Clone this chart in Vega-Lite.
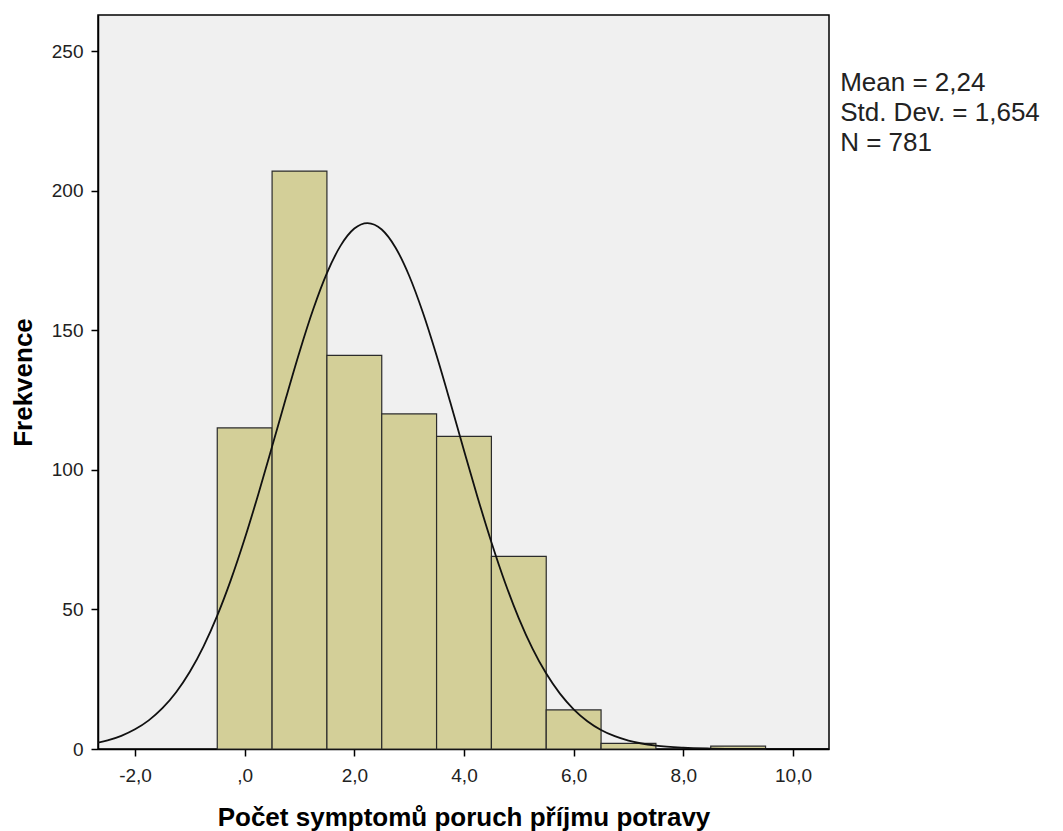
{
  "$schema": "https://vega.github.io/schema/vega-lite/v6.json",
  "autosize": {"type": "none"},
  "padding": {"left": 98, "top": 15, "right": 234, "bottom": 82},
  "width": 731,
  "height": 734,
  "background": "#ffffff",
  "config": {
    "view": {"fill": "#F0F0F0", "stroke": "#000000", "strokeWidth": 1.5},
    "font": "Liberation Sans"
  },
  "datasets": {
    "bars": [
      {"start": -0.5, "end": 0.5, "count": 115},
      {"start": 0.5, "end": 1.5, "count": 207},
      {"start": 1.5, "end": 2.5, "count": 141},
      {"start": 2.5, "end": 3.5, "count": 120},
      {"start": 3.5, "end": 4.5, "count": 112},
      {"start": 4.5, "end": 5.5, "count": 69},
      {"start": 5.5, "end": 6.5, "count": 14},
      {"start": 6.5, "end": 7.5, "count": 2},
      {"start": 8.5, "end": 9.5, "count": 1}
    ],
    "curve": [
      {"x": -2.675, "y": 2.28}, {"x": -2.5, "y": 3.1}, {"x": -2.25, "y": 4.73},
      {"x": -2.0, "y": 7.05}, {"x": -1.75, "y": 10.26}, {"x": -1.5, "y": 14.61},
      {"x": -1.25, "y": 20.33}, {"x": -1.0, "y": 27.65}, {"x": -0.75, "y": 36.77},
      {"x": -0.5, "y": 47.77}, {"x": -0.25, "y": 60.66}, {"x": 0.0, "y": 75.29},
      {"x": 0.25, "y": 91.35}, {"x": 0.5, "y": 108.32}, {"x": 0.75, "y": 125.54},
      {"x": 1.0, "y": 142.22}, {"x": 1.25, "y": 157.49}, {"x": 1.5, "y": 170.44},
      {"x": 1.75, "y": 180.29}, {"x": 2.0, "y": 186.41}, {"x": 2.24, "y": 188.38},
      {"x": 2.5, "y": 186.07}, {"x": 2.75, "y": 179.63}, {"x": 3.0, "y": 169.51},
      {"x": 3.25, "y": 156.34}, {"x": 3.5, "y": 140.93}, {"x": 3.75, "y": 124.18},
      {"x": 4.0, "y": 106.94}, {"x": 4.25, "y": 90.02}, {"x": 4.5, "y": 74.07},
      {"x": 4.75, "y": 59.56}, {"x": 5.0, "y": 46.82}, {"x": 5.25, "y": 35.96},
      {"x": 5.5, "y": 27.01}, {"x": 5.75, "y": 19.82}, {"x": 6.0, "y": 14.22},
      {"x": 6.25, "y": 9.97}, {"x": 6.5, "y": 6.83}, {"x": 6.75, "y": 4.58},
      {"x": 7.0, "y": 3.0}, {"x": 7.5, "y": 1.2}, {"x": 8.0, "y": 0.44},
      {"x": 8.5, "y": 0.15}, {"x": 9.0, "y": 0.04}, {"x": 9.5, "y": 0.01},
      {"x": 10.0, "y": 0.0}, {"x": 10.65, "y": 0.0}
    ]
  },
  "layer": [
    {
      "data": {"name": "bars"},
      "mark": {"type": "rect", "fill": "#D3CF98", "stroke": "#2b2b2b", "strokeWidth": 1.2},
      "encoding": {
        "x": {
          "field": "start", "type": "quantitative",
          "scale": {"domain": [-2.675, 10.657], "nice": false, "zero": false},
          "axis": {
            "values": [-2, 0, 2, 4, 6, 8, 10],
            "labelExpr": "datum.value == 0 ? ',0' : replace(replace(format(datum.value, '.1f'), '.', ','), '−', '-')",
            "title": "Počet symptomů poruch příjmu potravy",
            "titleFont": "Liberation Sans", "titleFontSize": 26, "titleFontWeight": "bold", "titleColor": "#000000",
            "titlePadding": 19,
            "labelFont": "Liberation Sans", "labelFontSize": 19, "labelColor": "#222222", "labelPadding": 10,
            "domainColor": "#000000", "domainWidth": 1.5,
            "tickColor": "#000000", "tickWidth": 1.5, "tickSize": 7,
            "grid": false
          }
        },
        "x2": {"field": "end"},
        "y": {
          "field": "count", "type": "quantitative",
          "scale": {"domain": [0, 262.9], "nice": false},
          "axis": {
            "values": [0, 50, 100, 150, 200, 250],
            "title": "Frekvence",
            "titleFont": "Liberation Sans", "titleFontSize": 26, "titleFontWeight": "bold", "titleColor": "#000000",
            "titlePadding": 15,
            "labelFont": "Liberation Sans", "labelFontSize": 19, "labelColor": "#222222", "labelPadding": 8,
            "domainColor": "#000000", "domainWidth": 1.5,
            "tickColor": "#000000", "tickWidth": 1.5, "tickSize": 7,
            "grid": false
          }
        },
        "y2": {"datum": 0}
      }
    },
    {
      "data": {"name": "curve"},
      "mark": {"type": "line", "color": "#111111", "strokeWidth": 1.8, "interpolate": "monotone", "clip": true},
      "encoding": {
        "x": {"field": "x", "type": "quantitative"},
        "y": {"field": "y", "type": "quantitative"}
      }
    },
    {
      "data": {"values": [{}]},
      "mark": {"type": "text", "align": "left", "baseline": "alphabetic", "font": "Liberation Sans", "fontSize": 26, "lineHeight": 30, "color": "#222222"},
      "encoding": {
        "x": {"datum": 10.86},
        "y": {"datum": 235.5},
        "text": {"value": ["Mean = 2,24", "Std. Dev. = 1,654", "N = 781"]}
      }
    }
  ]
}
